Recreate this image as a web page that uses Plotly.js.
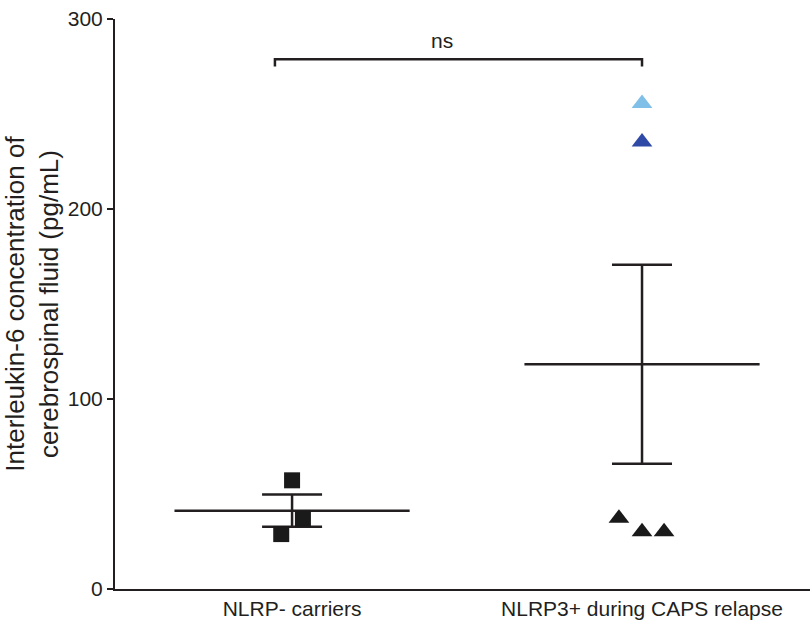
<!DOCTYPE html>
<html>
<head>
<meta charset="utf-8">
<script src="https://cdn.plot.ly/plotly-3.0.1.min.js"></script>
<style>html,body{margin:0;padding:0;background:#fff;}#chart{width:810px;height:620px;}</style>
</head>
<body>
<div id="chart"></div>
<script>
// ---- data ----
const categories = ["NLRP- carriers", "NLRP3+ during CAPS relapse"];
const yTicks = [0, 100, 200, 300];

// group 1 : NLRP- carriers (squares)
const carriersX = [0.0, 0.031, -0.031];      // category position + jitter
const carriersY = [57.2, 37.0, 28.9];

// group 2 : NLRP3+ during CAPS relapse (triangles)
const relapseBlackX = [0.934, 1.0, 1.063];
const relapseBlackY = [37.3, 30.1, 30.1];
const relapseDarkBlueX = [1.0];
const relapseDarkBlueY = [235.3];
const relapseLightBlueX = [1.0];
const relapseLightBlueY = [255.5];

// mean and SEM for each group
const groupPos = [0, 1];
const groupMean = [41.2, 118.3];
const groupSEM = [8.5, 52.4];

// significance label
const sigLabel = "ns";
const sigLevel = 278.8;

// ---- styles ----
const INK = "#231f20";
const FONT = "Liberation Sans, Arial, Helvetica, sans-serif";
const MEAN_HALF = 0.336;

const meanX = [], meanY = [];
groupPos.forEach((p, i) => {
  meanX.push(p - MEAN_HALF, p + MEAN_HALF, null);
  meanY.push(groupMean[i], groupMean[i], null);
});

const traces = [
  { // mean lines
    x: meanX, y: meanY, type: "scatter", mode: "lines",
    line: { color: INK, width: 2.5 }, hoverinfo: "skip", showlegend: false
  },
  { // SEM error bars
    x: groupPos, y: groupMean, type: "scatter", mode: "markers",
    marker: { size: 1, opacity: 0 },
    error_y: { type: "data", array: groupSEM, visible: true, color: INK, thickness: 2.5, width: 30 },
    showlegend: false
  },
  {
    x: carriersX, y: carriersY, type: "scatter", mode: "markers",
    marker: { symbol: "square", size: 16, color: "#1a1a1a" }, showlegend: false
  },
  {
    x: relapseBlackX, y: relapseBlackY, type: "scatter", mode: "markers",
    marker: { symbol: "triangle-up", size: 18, color: "#1a1a1a" }, showlegend: false
  },
  {
    x: relapseDarkBlueX, y: relapseDarkBlueY, type: "scatter", mode: "markers",
    marker: { symbol: "triangle-up", size: 18, color: "#2f4aa6" }, showlegend: false
  },
  {
    x: relapseLightBlueX, y: relapseLightBlueY, type: "scatter", mode: "markers",
    marker: { symbol: "triangle-up", size: 18, color: "#7fbfe8" }, showlegend: false
  }
];

const layout = {
  width: 810, height: 620,
  margin: { l: 115, r: 0, t: 19, b: 31, pad: 0 },
  paper_bgcolor: "#fff", plot_bgcolor: "#fff",
  font: { family: FONT, color: INK, size: 21 },
  showlegend: false,
  xaxis: {
    range: [-0.506, 1.48],
    tickvals: groupPos, ticktext: categories,
    showline: true, linecolor: INK, linewidth: 2,
    ticks: "", ticklen: 0, showgrid: false, zeroline: false,
    tickfont: { family: FONT, size: 21, color: INK }
  },
  yaxis: {
    range: [0, 300], tickvals: yTicks,
    showline: true, linecolor: INK, linewidth: 2,
    ticks: "outside", ticklen: 6, tickwidth: 2, tickcolor: INK,
    showgrid: false, zeroline: false,
    tickfont: { family: FONT, size: 21, color: INK },
    title: {
      text: "Interleukin-6 concentration of<br>cerebrospinal fluid (pg/mL)",
      font: { family: FONT, size: 26, color: INK },
      standoff: 8
    }
  },
  shapes: [
    { type: "path", xref: "x", yref: "y",
      path: `M -0.049 ${sigLevel - 3.8} L -0.049 ${sigLevel} L 1.0 ${sigLevel} L 1.0 ${sigLevel - 3.8}`,
      line: { color: INK, width: 2.5 } }
  ],
  annotations: [
    { x: 0.428, y: sigLevel + 3, xref: "x", yref: "y", text: sigLabel, showarrow: false,
      yanchor: "bottom", font: { family: FONT, size: 21, color: INK } }
  ]
};

Plotly.newPlot("chart", traces, layout, { displayModeBar: false, staticPlot: true });
</script>
</body>
</html>
